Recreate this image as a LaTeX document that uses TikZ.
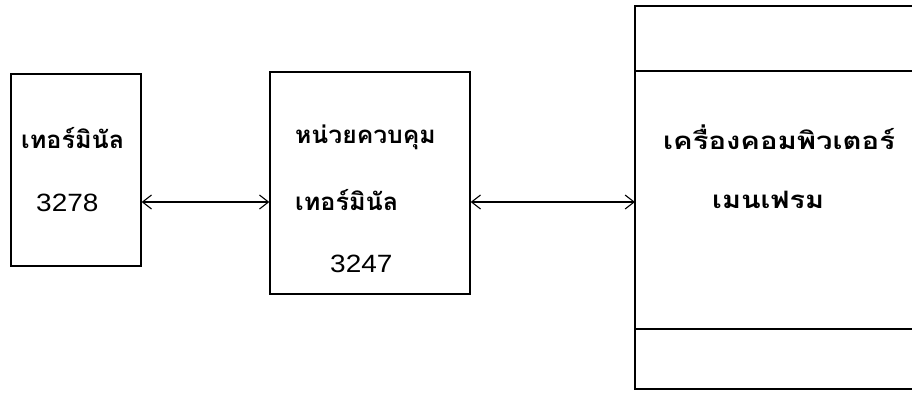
\documentclass[tikz,border=0pt]{standalone}
\usepackage{fontspec}
\newfontfamily\thaifont[Script=Thai]{Loma}
\setmainfont{Liberation Sans}
\usetikzlibrary{arrows.meta}
\tikzset{
  blk/.style={draw, line width=1.3pt, rectangle, inner sep=0pt},
  lbl/.style={font=\thaifont\bfseries\fontsize{24}{28}\selectfont, inner sep=0pt, anchor=west},
  num/.style={font=\fontsize{25}{28}\selectfont, inner sep=0pt, anchor=west},
  link/.style={line width=1.1pt, {Straight Barb[length=9pt,width=14pt]}-{Straight Barb[length=9pt,width=14pt]}}
}
\begin{document}
\begin{tikzpicture}[x=1pt,y=-1pt]
\useasboundingbox (0,0) rectangle (912,392);
% boxes
\node[blk, minimum width=130pt, minimum height=192pt] (b1) at (76,170) {};
\node[blk, minimum width=200pt, minimum height=222pt] (b2) at (370,183) {};
% mainframe box, open on the right
\draw[line width=1.3pt] (915,6) -| (635,389) -- (915,389);
\draw[line width=1.3pt] (635,71) -- (915,71);
\draw[line width=1.3pt] (635,329) -- (915,329);
\coordinate (b3w) at (635,202);
% texts
\node[lbl] (t1) at (21,138) {\scalebox{1.05}[1]{เทอร์มินัล}};
\node[num] (n1) at (36,203) {\scalebox{1.12}[1]{3278}};
\node[lbl] (t2) at (295,137) {\scalebox{1.03}[1]{หน่วยควบคุม}};
\node[lbl] (t3) at (295,200) {\scalebox{1.05}[1]{เทอร์มินัล}};
\node[num] (n2) at (330,264) {\scalebox{1.12}[1]{3247}};
\node[lbl] (t4) at (663,137) {\scalebox{1.22}[1]{เครื่องคอมพิวเตอร์}};
\node[lbl] (t5) at (712,200) {\scalebox{1.2}[1]{เมนเฟรม}};
% connectors
\coordinate (row) at (0,202);
\draw[link] (b1.east |- row) -- (b2.west |- row);
\draw[link] (b2.east |- row) -- (b3w);
\end{tikzpicture}
\end{document}
